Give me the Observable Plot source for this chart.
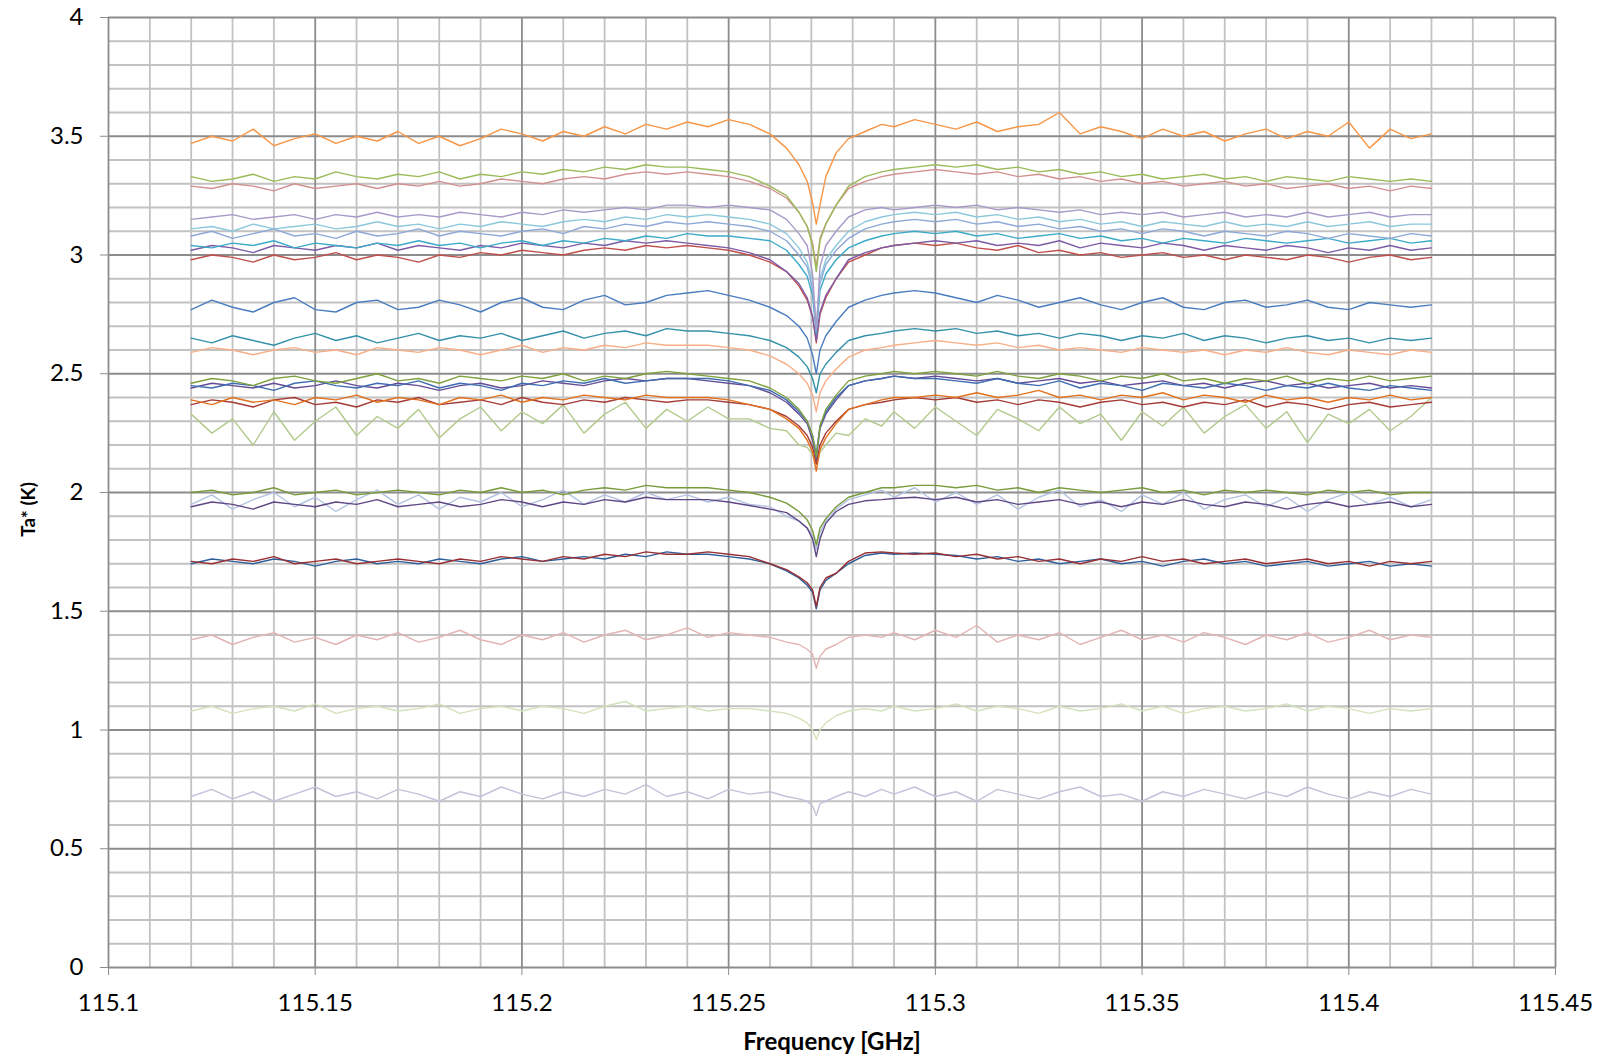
<!DOCTYPE html>
<html><head><meta charset="utf-8">
<script src="https://cdn.jsdelivr.net/npm/d3@7"></script>
<script src="https://cdn.jsdelivr.net/npm/@observablehq/plot@0.6"></script>
<style>
html,body{margin:0;padding:0;background:#fff;overflow:hidden}
#chart{width:1607px;height:1061px}
</style></head><body><div id="chart"></div>
<script>
// Frequency sample points (GHz) shared by all spectra
const freq = [115.12,115.125,115.13,115.135,115.14,115.145,115.15,115.155,115.16,115.165,115.17,115.175,115.18,115.185,115.19,115.195,115.2,115.205,115.21,115.215,115.22,115.225,115.23,115.235,115.24,115.245,115.25,
115.255,115.26,115.264,115.267,115.269,115.2703,115.2712,115.2721,115.2735,115.276,115.279,115.283,115.287,
115.29,115.295,115.3,115.305,115.31,115.315,115.32,115.325,115.33,115.335,115.34,115.345,115.35,115.355,115.36,115.365,115.37,115.375,115.38,115.385,115.39,115.395,115.4,115.405,115.41,115.415,115.42];

// Ta* (K) for each spectrum
const sOrange = [3.47,3.50,3.48,3.53,3.46,3.49,3.51,3.47,3.50,3.48,3.52,3.47,3.50,3.46,3.49,3.53,3.51,3.48,3.52,3.50,3.54,3.51,3.55,3.53,3.56,3.54,3.57,
3.55,3.51,3.45,3.38,3.31,3.22,3.13,3.21,3.33,3.43,3.49,3.52,3.55,
3.54,3.57,3.55,3.53,3.56,3.52,3.54,3.55,3.60,3.51,3.54,3.52,3.49,3.53,3.50,3.52,3.48,3.51,3.53,3.49,3.52,3.50,3.56,3.45,3.53,3.49,3.51];
const sGreen = [3.33,3.31,3.32,3.34,3.31,3.33,3.32,3.35,3.33,3.32,3.34,3.33,3.35,3.32,3.34,3.33,3.35,3.34,3.36,3.35,3.37,3.36,3.38,3.37,3.37,3.36,3.35,
3.33,3.29,3.25,3.18,3.12,3.04,2.93,3.06,3.13,3.21,3.29,3.33,3.35,
3.36,3.37,3.38,3.37,3.38,3.36,3.37,3.35,3.36,3.34,3.35,3.33,3.34,3.32,3.33,3.34,3.32,3.33,3.31,3.33,3.32,3.31,3.33,3.32,3.31,3.32,3.31];
const sPink = [3.29,3.28,3.30,3.29,3.27,3.30,3.28,3.29,3.30,3.28,3.30,3.29,3.31,3.29,3.30,3.32,3.31,3.30,3.32,3.33,3.32,3.34,3.35,3.34,3.35,3.34,3.33,
3.31,3.28,3.24,3.18,3.12,3.05,2.95,3.07,3.13,3.21,3.28,3.31,3.33,
3.34,3.35,3.36,3.35,3.34,3.35,3.33,3.34,3.32,3.33,3.31,3.32,3.30,3.31,3.29,3.30,3.31,3.29,3.30,3.28,3.29,3.30,3.28,3.29,3.27,3.29,3.28];
const sLavender = [3.15,3.16,3.17,3.15,3.16,3.17,3.15,3.17,3.16,3.18,3.16,3.17,3.16,3.18,3.17,3.16,3.18,3.17,3.19,3.18,3.19,3.20,3.19,3.21,3.21,3.20,3.21,
3.20,3.19,3.15,3.09,3.04,2.92,2.68,2.95,3.04,3.10,3.16,3.19,3.20,
3.19,3.20,3.21,3.20,3.21,3.19,3.20,3.19,3.18,3.19,3.17,3.18,3.17,3.18,3.16,3.17,3.18,3.16,3.17,3.16,3.18,3.16,3.17,3.18,3.16,3.17,3.17];
const sLightBlue = [3.11,3.12,3.10,3.13,3.11,3.12,3.13,3.11,3.12,3.14,3.12,3.13,3.11,3.13,3.12,3.14,3.13,3.12,3.14,3.15,3.14,3.16,3.15,3.17,3.16,3.17,3.16,
3.15,3.13,3.09,3.03,2.97,2.88,2.70,2.90,2.98,3.04,3.10,3.14,3.16,
3.17,3.18,3.17,3.18,3.16,3.17,3.15,3.16,3.14,3.15,3.13,3.14,3.12,3.14,3.13,3.12,3.14,3.12,3.13,3.12,3.14,3.12,3.13,3.14,3.12,3.13,3.13];
const sCornflower = [3.08,3.10,3.07,3.09,3.11,3.08,3.09,3.07,3.10,3.08,3.09,3.11,3.08,3.10,3.09,3.08,3.10,3.11,3.09,3.12,3.11,3.13,3.12,3.14,3.13,3.14,3.13,
3.12,3.10,3.06,3.00,2.95,2.86,2.69,2.88,2.96,3.02,3.07,3.11,3.13,
3.14,3.15,3.14,3.15,3.13,3.14,3.12,3.13,3.11,3.12,3.10,3.11,3.09,3.11,3.10,3.08,3.10,3.09,3.08,3.10,3.09,3.07,3.09,3.08,3.07,3.09,3.08];
const sAqua = [3.04,3.03,3.05,3.04,3.06,3.03,3.05,3.04,3.03,3.05,3.04,3.06,3.04,3.05,3.03,3.05,3.06,3.04,3.06,3.05,3.07,3.06,3.08,3.07,3.09,3.08,3.08,
3.07,3.06,3.02,2.96,2.91,2.83,2.67,2.85,2.92,2.98,3.03,3.06,3.08,
3.09,3.10,3.09,3.10,3.08,3.09,3.07,3.08,3.09,3.07,3.08,3.06,3.07,3.05,3.07,3.06,3.05,3.07,3.06,3.05,3.06,3.07,3.05,3.06,3.07,3.05,3.06];
const sPurple = [3.02,3.04,3.03,3.01,3.04,3.03,3.02,3.04,3.03,3.05,3.02,3.04,3.03,3.02,3.04,3.03,3.05,3.04,3.03,3.05,3.04,3.06,3.05,3.06,
3.05,3.04,3.03,3.01,2.98,2.93,2.88,2.82,2.74,2.64,2.76,2.83,2.90,2.98,3.01,3.03,3.04,3.05,
3.06,3.05,3.06,3.04,3.05,3.04,3.06,3.03,3.05,3.04,3.03,3.05,3.04,3.02,3.04,3.03,3.02,3.04,3.03,3.01,3.03,3.02,3.04,3.02,3.03];
const sRed = [2.98,3.00,2.99,2.97,3.00,2.98,2.99,3.01,2.98,3.00,2.99,2.97,3.00,2.99,3.01,3.00,3.02,3.01,3.00,3.02,3.03,3.02,3.04,3.03,
3.04,3.03,3.02,3.00,2.97,2.93,2.87,2.81,2.74,2.63,2.75,2.82,2.90,2.97,3.00,3.03,3.04,3.05,
3.04,3.05,3.03,3.02,3.04,3.01,3.02,3.00,3.01,2.99,3.00,3.01,2.99,3.00,2.98,3.00,2.99,2.98,3.00,2.99,2.97,2.99,3.00,2.98,2.99];
const sBlue = [2.77,2.81,2.78,2.76,2.80,2.82,2.77,2.76,2.80,2.81,2.77,2.78,2.81,2.79,2.76,2.80,2.82,2.78,2.77,2.81,2.83,2.79,2.80,2.83,
2.84,2.85,2.83,2.81,2.78,2.745,2.70,2.65,2.58,2.50,2.60,2.66,2.72,2.78,2.81,2.83,2.84,2.85,
2.84,2.82,2.80,2.83,2.81,2.78,2.80,2.82,2.79,2.77,2.80,2.82,2.78,2.77,2.80,2.81,2.78,2.79,2.81,2.78,2.77,2.80,2.79,2.78,2.79];
const sTeal = [2.65,2.63,2.66,2.64,2.62,2.65,2.67,2.64,2.66,2.63,2.65,2.67,2.64,2.66,2.65,2.67,2.64,2.66,2.68,2.65,2.67,2.68,2.66,2.69,
2.68,2.68,2.67,2.66,2.64,2.61,2.57,2.53,2.48,2.42,2.50,2.54,2.59,2.64,2.66,2.67,2.68,2.69,
2.68,2.69,2.67,2.68,2.66,2.67,2.65,2.67,2.66,2.64,2.66,2.65,2.67,2.64,2.66,2.65,2.63,2.65,2.66,2.64,2.65,2.63,2.65,2.64,2.65];
const sSalmon = [2.59,2.61,2.60,2.58,2.60,2.61,2.59,2.60,2.58,2.61,2.60,2.59,2.61,2.60,2.58,2.60,2.62,2.59,2.61,2.60,2.62,2.61,2.63,2.62,
2.62,2.62,2.61,2.60,2.575,2.54,2.50,2.46,2.41,2.34,2.42,2.47,2.52,2.57,2.60,2.61,2.62,2.63,
2.64,2.63,2.62,2.63,2.61,2.62,2.60,2.61,2.60,2.59,2.61,2.60,2.59,2.60,2.58,2.60,2.59,2.61,2.59,2.58,2.60,2.59,2.58,2.60,2.59];
const sOlive = [2.46,2.48,2.47,2.45,2.48,2.49,2.47,2.46,2.48,2.50,2.47,2.48,2.46,2.49,2.48,2.47,2.49,2.48,2.50,2.47,2.49,2.48,2.50,2.51,
2.50,2.49,2.48,2.47,2.44,2.40,2.35,2.30,2.24,2.15,2.28,2.35,2.41,2.47,2.49,2.50,2.51,2.50,
2.51,2.50,2.49,2.51,2.49,2.48,2.50,2.49,2.47,2.49,2.48,2.50,2.47,2.48,2.46,2.48,2.47,2.49,2.46,2.48,2.47,2.49,2.47,2.48,2.49];
const sBlue2 = [2.45,2.44,2.46,2.45,2.43,2.46,2.47,2.45,2.44,2.46,2.45,2.47,2.44,2.46,2.45,2.43,2.46,2.45,2.47,2.46,2.48,2.46,2.47,2.48,
2.48,2.48,2.47,2.45,2.43,2.39,2.34,2.30,2.24,2.16,2.28,2.34,2.40,2.45,2.47,2.48,2.49,2.48,
2.48,2.47,2.46,2.48,2.46,2.45,2.47,2.44,2.46,2.45,2.43,2.46,2.45,2.44,2.46,2.45,2.43,2.45,2.44,2.46,2.44,2.43,2.45,2.44,2.43];
const sPurple2 = [2.44,2.46,2.45,2.44,2.46,2.44,2.45,2.47,2.45,2.44,2.46,2.45,2.43,2.45,2.46,2.44,2.45,2.47,2.46,2.45,2.47,2.48,2.47,2.48,
2.48,2.47,2.46,2.45,2.42,2.38,2.33,2.29,2.22,2.14,2.27,2.33,2.39,2.45,2.47,2.48,2.49,2.48,
2.49,2.48,2.47,2.48,2.46,2.47,2.48,2.46,2.47,2.45,2.46,2.47,2.45,2.46,2.44,2.46,2.47,2.45,2.46,2.44,2.45,2.46,2.44,2.45,2.44];
const sOrange2 = [2.39,2.37,2.40,2.38,2.39,2.37,2.40,2.39,2.41,2.38,2.40,2.39,2.37,2.40,2.39,2.41,2.38,2.40,2.39,2.41,2.40,2.39,2.41,2.40,
2.40,2.40,2.39,2.37,2.35,2.31,2.27,2.22,2.17,2.09,2.18,2.23,2.29,2.35,2.37,2.39,2.40,2.40,
2.41,2.40,2.42,2.40,2.41,2.43,2.40,2.41,2.39,2.41,2.40,2.42,2.39,2.41,2.40,2.38,2.41,2.39,2.40,2.38,2.40,2.39,2.41,2.39,2.40];
const sRed2 = [2.37,2.39,2.38,2.36,2.39,2.40,2.37,2.38,2.36,2.39,2.38,2.40,2.37,2.38,2.39,2.37,2.40,2.38,2.37,2.39,2.38,2.40,2.39,2.38,
2.39,2.39,2.38,2.37,2.35,2.32,2.28,2.24,2.19,2.12,2.20,2.25,2.30,2.35,2.37,2.38,2.39,2.40,
2.39,2.40,2.38,2.39,2.37,2.39,2.38,2.36,2.38,2.39,2.37,2.38,2.36,2.38,2.37,2.39,2.36,2.38,2.37,2.35,2.37,2.38,2.36,2.37,2.38];
const sLightGreen = [2.33,2.25,2.31,2.20,2.34,2.22,2.30,2.36,2.24,2.32,2.27,2.35,2.23,2.31,2.36,2.26,2.34,2.29,2.37,2.25,2.33,2.38,2.27,2.35,2.30,2.36,2.31,
2.31,2.27,2.26,2.20,2.19,2.16,2.12,2.17,2.20,2.25,2.24,2.31,2.28,
2.34,2.27,2.36,2.30,2.24,2.35,2.31,2.26,2.36,2.29,2.33,2.22,2.34,2.28,2.36,2.25,2.32,2.37,2.27,2.34,2.21,2.33,2.29,2.35,2.26,2.32,2.40];
const sOlive2 = [2.00,2.01,1.99,2.00,2.02,1.99,2.00,2.01,1.99,2.00,2.01,2.00,1.99,2.01,2.00,2.02,2.00,2.01,1.99,2.01,2.02,2.01,2.03,2.02,
2.02,2.02,2.01,2.00,1.98,1.955,1.92,1.885,1.84,1.78,1.85,1.89,1.94,1.98,2.00,2.02,2.02,2.03,
2.03,2.02,2.03,2.01,2.02,2.00,2.02,2.01,2.00,2.01,2.02,2.00,2.01,1.99,2.01,2.00,2.01,2.00,1.99,2.01,2.00,2.01,1.99,2.00,2.00];
const sDarkPurple = [1.94,1.96,1.95,1.93,1.96,1.95,1.94,1.96,1.95,1.97,1.94,1.95,1.96,1.94,1.95,1.97,1.96,1.94,1.96,1.95,1.97,1.96,1.98,1.97,
1.97,1.97,1.96,1.945,1.93,1.915,1.88,1.85,1.805,1.73,1.805,1.87,1.92,1.95,1.965,1.97,1.975,1.98,
1.97,1.98,1.96,1.97,1.95,1.96,1.97,1.95,1.96,1.94,1.96,1.95,1.97,1.95,1.94,1.96,1.95,1.93,1.95,1.96,1.94,1.95,1.96,1.94,1.95];
const sSteel = [1.95,1.99,1.93,1.97,2.00,1.94,1.98,1.92,1.97,2.01,1.95,1.99,1.93,1.98,1.96,2.00,1.94,1.97,2.01,1.95,1.99,1.96,2.00,1.97,
1.99,1.96,1.98,1.95,1.94,1.90,1.88,1.85,1.82,1.76,1.83,1.88,1.93,1.97,1.99,2.01,1.98,2.02,
1.96,2.00,1.95,1.99,1.93,1.98,2.01,1.94,1.97,1.92,1.99,1.95,2.00,1.93,1.97,1.99,1.94,1.98,1.92,1.97,2.00,1.95,1.98,1.94,1.97];
const sDarkRed = [1.71,1.70,1.72,1.71,1.73,1.70,1.71,1.72,1.70,1.71,1.72,1.71,1.70,1.72,1.71,1.73,1.72,1.71,1.73,1.72,1.74,1.73,1.75,1.74,
1.74,1.75,1.74,1.73,1.70,1.675,1.645,1.62,1.59,1.52,1.60,1.64,1.66,1.71,1.745,1.75,1.745,1.74,
1.745,1.73,1.74,1.72,1.73,1.71,1.72,1.70,1.72,1.71,1.73,1.71,1.72,1.70,1.71,1.72,1.70,1.71,1.72,1.70,1.71,1.69,1.71,1.70,1.71];
const sDarkBlue = [1.70,1.72,1.71,1.70,1.72,1.71,1.69,1.71,1.72,1.70,1.71,1.70,1.72,1.71,1.70,1.72,1.73,1.71,1.72,1.73,1.72,1.74,1.73,1.75,
1.74,1.74,1.73,1.72,1.70,1.67,1.64,1.61,1.58,1.51,1.59,1.63,1.66,1.70,1.735,1.745,1.74,1.745,
1.74,1.735,1.72,1.73,1.71,1.72,1.70,1.71,1.72,1.70,1.71,1.69,1.71,1.72,1.70,1.71,1.69,1.70,1.71,1.69,1.70,1.71,1.69,1.70,1.69];
const sPalePink = [1.38,1.40,1.36,1.39,1.41,1.37,1.39,1.36,1.40,1.38,1.41,1.37,1.39,1.42,1.38,1.36,1.40,1.38,1.41,1.37,1.40,1.42,1.38,1.40,1.43,1.39,1.41,
1.40,1.39,1.37,1.36,1.34,1.32,1.26,1.31,1.34,1.36,1.39,1.40,1.39,
1.41,1.38,1.42,1.39,1.44,1.37,1.40,1.38,1.41,1.36,1.39,1.42,1.38,1.40,1.37,1.41,1.39,1.36,1.40,1.38,1.41,1.37,1.39,1.42,1.38,1.40,1.39];
const sPaleGreen = [1.08,1.10,1.07,1.09,1.10,1.08,1.11,1.07,1.09,1.10,1.08,1.09,1.11,1.07,1.09,1.10,1.08,1.10,1.09,1.07,1.10,1.12,1.08,1.09,1.10,1.08,1.09,
1.09,1.08,1.07,1.05,1.03,1.00,0.96,1.00,1.03,1.06,1.08,1.09,1.08,
1.10,1.08,1.09,1.11,1.08,1.10,1.09,1.07,1.10,1.08,1.09,1.11,1.08,1.10,1.07,1.09,1.10,1.08,1.09,1.11,1.08,1.10,1.09,1.07,1.09,1.08,1.09];
const sPaleLavender = [0.72,0.75,0.71,0.74,0.70,0.73,0.76,0.72,0.74,0.71,0.75,0.73,0.70,0.74,0.72,0.76,0.73,0.71,0.74,0.72,0.75,0.73,0.77,0.72,0.74,0.71,0.75,
0.73,0.74,0.72,0.71,0.70,0.68,0.64,0.69,0.70,0.72,0.74,0.72,0.75,
0.73,0.76,0.72,0.74,0.70,0.75,0.73,0.71,0.74,0.76,0.72,0.73,0.70,0.74,0.72,0.75,0.73,0.71,0.74,0.72,0.76,0.73,0.71,0.74,0.72,0.75,0.73];

// Draw order (first drawn = bottom) and colours
const seriesNames = ["paleLavender","paleGreen","palePink","steel","lightGreen","darkBlue","darkRed","darkPurple","olive2",
  "red2","orange2","purple2","blue2","olive","salmon","teal","blue","red","purple","aqua","cornflower","lightBlue","lavender","pink","green","orange"];
const seriesValues = [sPaleLavender,sPaleGreen,sPalePink,sSteel,sLightGreen,sDarkBlue,sDarkRed,sDarkPurple,sOlive2,
  sRed2,sOrange2,sPurple2,sBlue2,sOlive,sSalmon,sTeal,sBlue,sRed,sPurple,sAqua,sCornflower,sLightBlue,sLavender,sPink,sGreen,sOrange];
const seriesColors = ["#C9BFDA","#D3E2BB","#E3B4B3","#B3C3E1","#B2CA8C","#2F5F9B","#972F33","#5E4784","#789B3A",
  "#A53B36","#E2711D","#644C96","#3F6DB2","#7FA23E","#F8AF88","#3591AA","#4A7DC0","#C0504D","#7D5BA6","#3BAAC8","#8EA8D8","#8CC8DC","#A899C8","#D29190","#9BBB59","#F79646"];

// Axis ticks and labels
const xTicks = [115.1,115.15,115.2,115.25,115.3,115.35,115.4,115.45];
const xTickLabels = ["115.1","115.15","115.2","115.25","115.3","115.35","115.4","115.45"];
const yTicks = [0,0.5,1,1.5,2,2.5,3,3.5,4];
const yTickLabels = ["0","0.5","1","1.5","2","2.5","3","3.5","4"];
const xMinor = d3.range(1,35).filter(i => i % 5 !== 0).map(i => 115.1 + i * 0.01);
const yMinor = d3.range(1,40).filter(i => i % 5 !== 0).map(i => i / 10);

seriesValues.forEach((v, k) => { if (v.length !== freq.length) throw new Error(seriesNames[k] + " has " + v.length + " values"); });

const lineMarks = seriesValues.map((vals, k) =>
  Plot.line(freq.map((f, i) => ({f, v: vals[i]})), {x: "f", y: "v", stroke: seriesColors[k], strokeWidth: 1.4})
);

const chart = Plot.plot({
  width: 1607, height: 1061,
  marginLeft: 108, marginRight: 52, marginTop: 17, marginBottom: 94,
  style: {fontFamily: "Lato, 'Open Sans', sans-serif", fontSize: "24px", background: "#fff", color: "#000"},
  x: {domain: [115.1, 115.45]},
  y: {domain: [0, 4]},
  marks: [
    Plot.ruleX(xMinor, {stroke: "#c2c2c2", strokeWidth: 1.8}),
    Plot.ruleY(yMinor, {stroke: "#c2c2c2", strokeWidth: 1.8}),
    Plot.ruleX(xTicks, {stroke: "#8c8c8c", strokeWidth: 1.8}),
    Plot.ruleY(yTicks, {stroke: "#8c8c8c", strokeWidth: 1.8}),
    ...lineMarks,
    Plot.axisX(xTicks, {tickSize: 8, tickPadding: 18, stroke: "#8c8c8c", fill: "#000", fontSize: 24, label: null,
      tickFormat: d => xTickLabels[xTicks.findIndex(t => Math.abs(t - d) < 1e-9)]}),
    Plot.axisY(yTicks, {tickSize: 8, tickPadding: 17, stroke: "#8c8c8c", fill: "#000", fontSize: 24, label: null,
      tickFormat: d => yTickLabels[yTicks.findIndex(t => Math.abs(t - d) < 1e-9)]}),
    Plot.text(["Frequency [GHz]"], {frameAnchor: "bottom", lineAnchor: "middle", textAnchor: "middle", dy: 75, text: d => d, fontWeight: "bold", fontSize: 24, fill: "#000"}),
    Plot.text(["Ta* (K)"], {frameAnchor: "left", textAnchor: "middle", lineAnchor: "middle", dx: -80, dy: 17, rotate: -90, text: d => d, fontWeight: "bold", fontSize: 19, fill: "#000"})
  ]
});
document.getElementById("chart").appendChild(chart);
</script></body></html>
